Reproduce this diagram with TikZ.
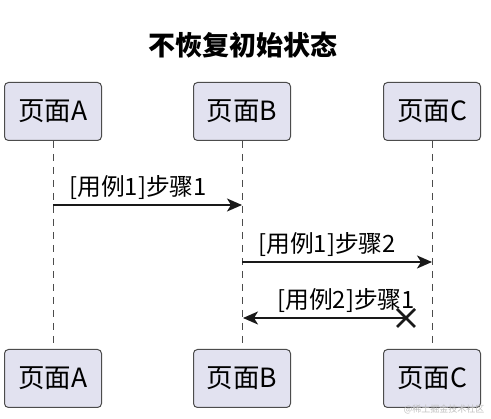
\documentclass[tikz,border=0pt]{standalone}
\usepackage{fontspec}
\setmainfont{Noto Sans CJK SC}
\newfontfamily\cjk{Noto Sans CJK SC}
\usetikzlibrary{arrows.meta,calc}
\begin{document}
\begin{tikzpicture}[x=1pt,y=-1pt,
  part/.style={draw=black!70,line width=1pt,fill=lavbox,rounded corners=4pt,minimum width=97pt,minimum height=58pt,inner sep=0pt,font=\cjk\fontsize{26.5}{30}\selectfont},
  life/.style={draw=black!70,line width=0.8pt,dash pattern=on 7pt off 6pt},
  msg/.style={draw=black!90,line width=1.6pt,-{Stealth[length=15pt,width=13pt,inset=4pt]}},
  lbl/.style={font=\cjk\fontsize{23.8}{27}\selectfont,anchor=base west,inner sep=0pt}]
\definecolor{lavbox}{HTML}{E2E2F0}
\useasboundingbox (0,0) rectangle (491,419);
\fill[white] (0,0) rectangle (491,419);
\node[font=\cjk\bfseries\fontsize{27}{30}\selectfont] (title) at (243,45) {不恢复初始状态};
\node[part] (a1) at (53,111.5) {页面A};
\node[part] (b1) at (242,111.5) {页面B};
\node[part] (c1) at (432,111.5) {页面C};
\node[part] (a2) at (53,378.5) {页面A};
\node[part] (b2) at (242,378.5) {页面B};
\node[part] (c2) at (432,378.5) {页面C};
\draw[life] (a1) -- (a2);
\draw[life] (b1) -- (b2);
\draw[life] (c1) -- (c2);
\coordinate (a1y) at (53,205);
\coordinate (b1y) at (242,205);
\coordinate (b2y) at (242,262);
\coordinate (c2y) at (432,262);
\coordinate (x3) at (406,318);
\coordinate (b3y) at (243,318);
\draw[msg] (a1y) -- (b1y);
\draw[msg] (b2y) -- (c2y);
\draw[msg] (x3) -- (b3y);
\draw[black!90,line width=2.8pt] ($(x3)+(-9,-9)$) -- ($(x3)+(9,9)$) ($(x3)+(-9,9)$) -- ($(x3)+(9,-9)$);
\node[lbl] (l1) at (69,196) {[用例1]步骤1};
\node[lbl] (l2) at (258,253) {[用例1]步骤2};
\node[lbl] (l3) at (277,309) {[用例2]步骤1};
\node[font=\cjk\fontsize{9}{10}\selectfont,text=black!25,anchor=east] (wm) at (488,409) {@稀土掘金技术社区};
\end{tikzpicture}
\end{document}
